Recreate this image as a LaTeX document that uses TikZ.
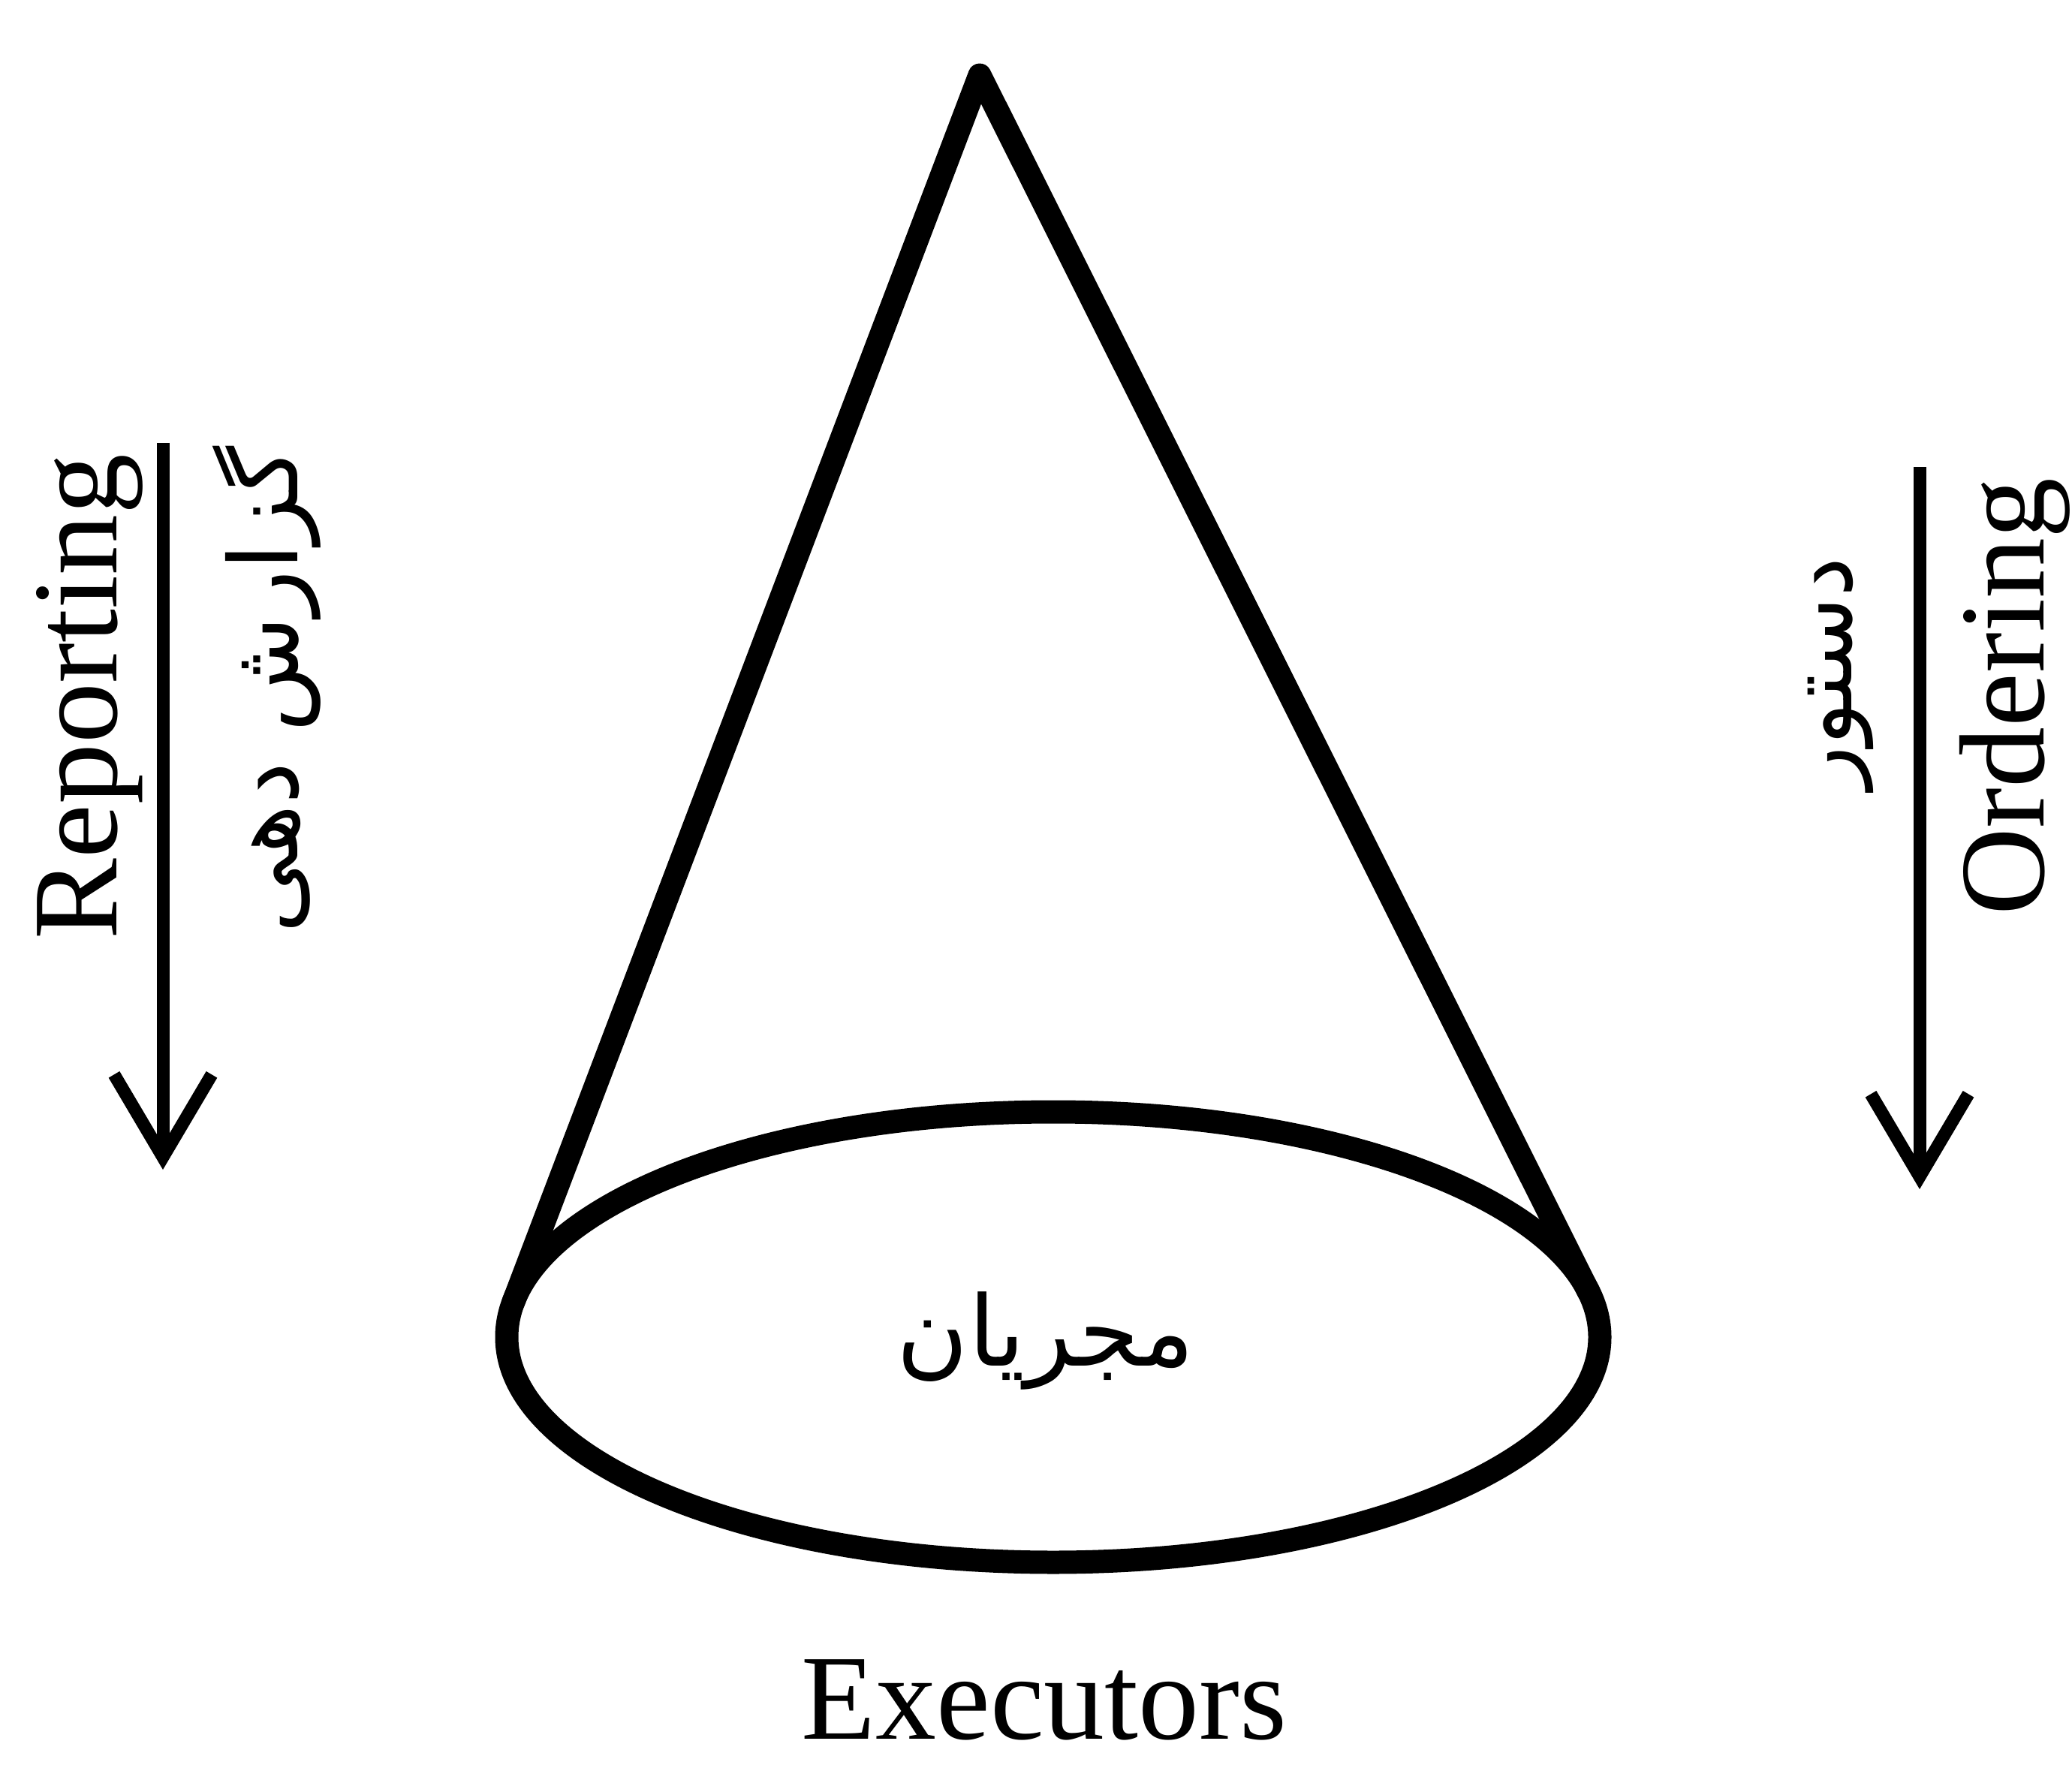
\documentclass[tikz,border=0pt]{standalone}
\usepackage{fontspec}
\setmainfont{Liberation Serif}
\newfontfamily\persianfont[Script=Arabic]{DejaVu Sans}
\TeXXeTstate=1
\usetikzlibrary{arrows.meta}
\tikzset{
  cone/.style  = {line width=3.1mm, line join=round, line cap=round},
  flow/.style  = {line width=1.7mm, -{Straight Barb[length=11mm,width=13mm]}},
  lbl/.style   = {font=\fontsize{46}{50}\selectfont, inner sep=0pt},
  plbl/.style  = {font=\persianfont\fontsize{36}{40}\selectfont, inner sep=0pt},
}

\begin{document}
\begin{tikzpicture}
  \useasboundingbox (0,0) rectangle (27.6,23.54);

  % cone: apex, base ellipse and the two tangent points
  \coordinate (apex) at (13.05,22.54);
  \coordinate (base) at (14.03,5.73);
  \path (base) ++(171.1:7.28 and 3) coordinate (tl);
  \path (base) ++(11.66:7.28 and 3) coordinate (tr);

  \draw[cone] (base) ellipse [x radius=7.28, y radius=3];
  \draw[cone] (tl) -- (apex) -- (tr);

  \node[plbl, font=\persianfont\fontsize{37}{40}\selectfont] (execfa) at (13.93,5.68) {\beginR مجریان\endR};
  \node[lbl, anchor=base] (exec) at (13.91,0.38) {Executors};

  % left: reporting
  \node[lbl, rotate=90, anchor=base] (rep) at (1.55,14.26) {Reporting};
  \node[plbl, rotate=90] (repfa) at (3.55,14.35) {\beginR گزارش دهی\endR};
  \coordinate (reptop) at (2.17,17.64);
  \coordinate (repbot) at (2.17,7.96);
  \draw[flow] (reptop) -- (repbot);

  % right: ordering
  \node[lbl, rotate=90, anchor=base] (ord) at (27.22,14.26) {Ordering};
  \node[plbl, font=\persianfont\fontsize{34}{38}\selectfont, rotate=90] (ordfa) at (24.52,14.57) {\beginR دستور\endR};
  \coordinate (ordtop) at (25.57,17.32);
  \coordinate (ordbot) at (25.57,7.70);
  \draw[flow] (ordtop) -- (ordbot);
\end{tikzpicture}
\end{document}
